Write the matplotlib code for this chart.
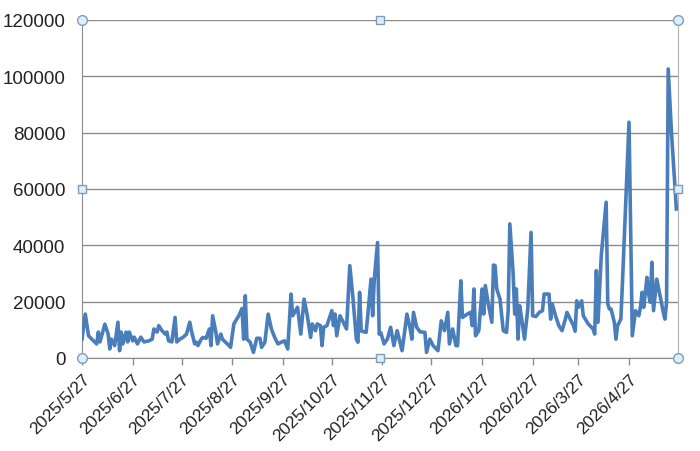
import numpy as np
import pandas as pd
import matplotlib
matplotlib.use("Agg")
import matplotlib.pyplot as plt

plt.rcParams['font.family'] = ['Liberation Sans', 'DejaVu Sans']

# data: days since 2025-05-27 and the daily value on that day
start_date = "2025-05-27"
day_offsets = [
    0, 2, 4, 7, 9, 10, 11, 14, 16, 17, 18, 20, 22, 23, 24, 25, 27, 28, 29, 31,
    32, 34, 36, 38, 41, 43, 44, 46, 47, 49, 51, 52, 53, 55, 57, 58, 60, 62, 64, 66,
    67, 69, 70, 71, 73, 74, 76, 78, 79, 80, 82, 83, 85, 86, 87, 89, 91, 92, 93, 96,
    98, 99, 100, 101, 103, 105, 107, 109, 110, 112, 114, 116, 118, 120, 122, 124, 126, 128, 129, 132,
    134, 136, 138, 140, 141, 143, 144, 146, 147, 148, 150, 153, 154, 155, 156, 158, 160, 162, 164, 166,
    168, 169, 170, 171, 174, 175, 177, 178, 179, 181, 182, 183, 185, 187, 189, 191, 193, 194, 196, 197,
    199, 201, 202, 203, 205, 207, 210, 211, 213, 215, 218, 220, 222, 224, 225, 227, 229, 230, 232, 233,
    236, 238, 239, 240, 241, 243, 245, 246, 247, 249, 251, 252, 253, 254, 256, 258, 260, 261, 262, 264,
    265, 266, 267, 268, 269, 271, 273, 275, 276, 278, 280, 282, 283, 286, 287, 288, 290, 292, 294, 296,
    297, 299, 301, 302, 303, 304, 306, 307, 310, 313, 314, 315, 316, 318, 321, 322, 323, 324, 326, 327,
    328, 330, 331, 335, 337, 339, 341, 342, 343, 344, 346, 347, 348, 349, 350, 352, 354, 356, 357, 358,
    359, 361, 364,
]
values = [
    6700, 15600, 7900, 6100, 5000, 9200, 5700, 12000, 8500, 3200, 6700, 4400, 12700, 2600, 9200, 5000, 9200, 5700, 9200, 6100,
    7400, 5000, 7400, 5700, 6100, 6700, 10300, 9200, 11500, 9700, 8500, 9200, 6100, 5700, 14400, 5700, 6700, 7400, 8500, 12700,
    9700, 5000, 5600, 4400, 6700, 7300, 7000, 10300, 4400, 15000, 9100, 5000, 8500, 6700, 6100, 5000, 3800, 7900, 12100, 15000,
    17600, 6700, 22100, 6700, 5600, 2000, 7000, 7000, 3800, 5600, 15600, 10300, 7300, 5000, 5600, 6100, 3200, 22700, 15000, 18000,
    8500, 20900, 15000, 7300, 12100, 9700, 12100, 11500, 4400, 10900, 11500, 16800, 11500, 15600, 7900, 15000, 12700, 10300, 32800, 20900,
    6700, 5600, 23300, 9600, 9100, 15000, 28000, 15000, 28000, 41000, 8500, 9000, 5000, 6700, 10900, 4400, 9700, 7300, 2600, 6700,
    15600, 10300, 6700, 16200, 10900, 9300, 9100, 2000, 6700, 4400, 2600, 13200, 9700, 16200, 5000, 10300, 4400, 4400, 27400, 14400,
    15600, 16200, 11500, 24500, 7900, 9700, 24500, 15600, 25700, 18600, 12700, 33000, 32800, 24500, 20900, 9700, 9100, 16800, 47600, 30400,
    15600, 24500, 6700, 18600, 15000, 6700, 17400, 44600, 15000, 14700, 16200, 16800, 22700, 22700, 13800, 19200, 15000, 11500, 9700, 13800,
    16200, 13800, 11500, 9500, 20300, 18000, 20300, 15000, 12100, 10300, 8500, 31000, 12700, 36300, 55300, 19200, 17400, 17400, 12700, 6700,
    11500, 13800, 26900, 83700, 7900, 16800, 15000, 18000, 23300, 18000, 28600, 22700, 19800, 34000, 16800, 28000, 22100, 16200, 13800, 19800,
    102600, 80100, 52900,
]

dates = pd.Timestamp(start_date) + pd.to_timedelta(day_offsets, unit="D")
tick_dates = pd.date_range("2025-05-01", periods=12, freq="MS") + pd.Timedelta(days=26)
tick_labels = [f"{d.year}/{d.month}/{d.day}" for d in tick_dates]

fig = plt.figure(figsize=(7, 4.52), dpi=100)
ax = fig.add_axes([82 / 700, 1 - 359 / 452, 596 / 700, 338 / 452])

ax.plot(dates, values, color="#4a7ebb", linewidth=2.6, solid_joinstyle="round", zorder=3)

ax.set_ylim(0, 120000)
ax.set_yticks(np.arange(0, 120001, 20000))
ax.set_xlim(pd.Timestamp("2025-05-27"), pd.Timestamp("2026-05-27"))
ax.set_xticks(tick_dates)
ax.set_xticklabels(tick_labels, rotation=45, ha="right", rotation_mode="anchor")

ax.grid(axis="y", color="#8c8c8c", linewidth=1.0, zorder=0)
ax.tick_params(axis="y", length=0, pad=12, labelsize=13.5, labelcolor="#222222")
ax.tick_params(axis="x", length=5, width=1, color="#8c8c8c", pad=4, labelsize=12.5, labelcolor="#222222")

ax.spines["top"].set_visible(False)
ax.spines["left"].set_color("#8c8c8c")
ax.spines["bottom"].set_color("#8c8c8c")
ax.spines["right"].set_color("#b4b4b4")

# chart selection handles
hx = [0, 0.5, 1, 0, 1, 0, 0.5, 1]
hy = [1, 1, 1, 0.5, 0.5, 0, 0, 0]
hm = ["o", "s", "o", "s", "s", "o", "s", "o"]
for x, y, m in zip(hx, hy, hm):
    ax.plot(x, y, marker=m, markersize=7 if m == "o" else 6, markerfacecolor="#dcefff",
            markeredgecolor="#7f9db9", markeredgewidth=1, transform=ax.transAxes,
            clip_on=False, zorder=5)

fig.savefig("out.png", dpi=100)
